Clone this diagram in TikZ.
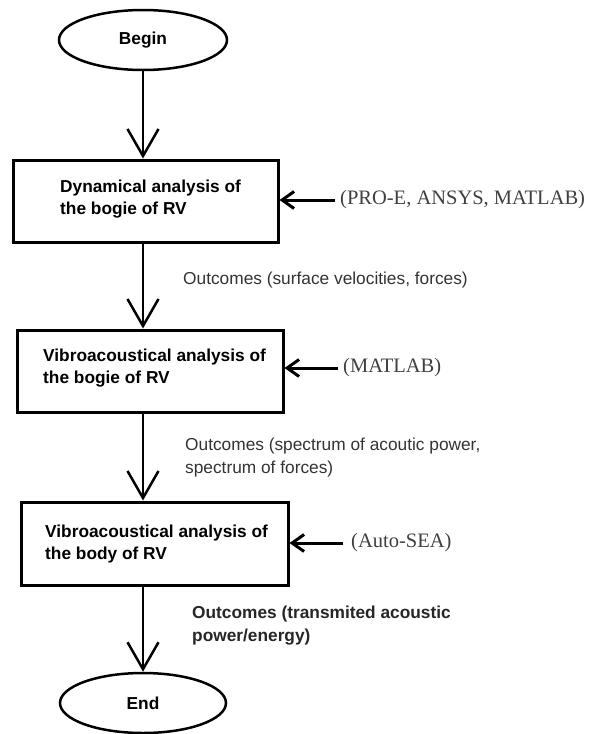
\documentclass[tikz,border=0pt]{standalone}
\usepackage{fontspec}
\setmainfont{Liberation Serif}
\setsansfont{Liberation Sans}
\usetikzlibrary{arrows.meta,shapes.geometric}
\begin{document}
\begin{tikzpicture}[x=1pt,y=-1pt,
  box/.style={draw, line width=3pt, minimum width=265pt, minimum height=82pt, inner sep=0pt},
  oval/.style={draw, ellipse, line width=2.5pt, minimum width=168pt, minimum height=60pt, inner sep=0pt,
    font=\sffamily\bfseries\fontsize{17.3}{22.5}\selectfont},
  boxtext/.style={anchor=west, align=left, inner sep=0pt, font=\sffamily\bfseries\fontsize{17.3}{22.5}\selectfont},
  outtext/.style={anchor=west, align=left, inner sep=0pt, text=black!80, font=\sffamily\fontsize{17.3}{23}\selectfont},
  outbold/.style={anchor=west, align=left, inner sep=0pt, text=black!85, font=\sffamily\bfseries\fontsize{17.3}{23}\selectfont},
  tooltext/.style={anchor=west, inner sep=0pt, text=black!75, font=\rmfamily\fontsize{20.5}{24}\selectfont},
  flow/.style={line width=2.5pt, -{Straight Barb[length=27pt,width=31pt]}},
  feed/.style={line width=3pt, -{Straight Barb[length=12pt,width=17pt]}}
]
\useasboundingbox (0,0) rectangle (592,734);

\node[oval] (begin) at (143,40) {Begin};
\node[box] (b1) at (145.5,201) {};
\node[box, minimum width=266pt] (b2) at (150,371) {};
\node[box, minimum width=267pt, minimum height=83pt] (b3) at (154.5,543.5) {};
\node[oval, minimum width=166pt] (end) at (143,703) {End};

\node[boxtext] (t1) at (60,199) {Dynamical analysis of\\the bogie of RV};
\node[boxtext] (t2) at (43,368) {Vibroacoustical analysis of\\the bogie of RV};
\node[boxtext] (t3) at (45,544) {Vibroacoustical analysis of\\the body of RV};

\node[outtext] (o1) at (183,280) {Outcomes (surface velocities, forces)};
\node[outtext] (o2) at (185,458) {Outcomes (spectrum of acoutic power,\\spectrum of forces)};
\node[outbold] (o3) at (192,626) {Outcomes (transmited acoustic\\power/energy)};

\node[tooltext] (l1) at (340,200) {(PRO-E, ANSYS, MATLAB)};
\node[tooltext] (l2) at (343,368) {(MATLAB)};
\node[tooltext] (l3) at (351,543) {(Auto-SEA)};

\coordinate (c1) at (335,200);
\coordinate (c2) at (338,368);
\coordinate (c3) at (343,543);

\draw[flow] (begin.south) -- (begin.south |- b1.north);
\draw[flow] (begin |- b1.south) -- (begin |- b2.north);
\draw[flow] (begin |- b2.south) -- (begin |- b3.north);
\draw[flow] (begin |- b3.south) -- (end.north);

\draw[feed] (c1) -- (c1 -| b1.east);
\draw[feed] (c2) -- (c2 -| b2.east);
\draw[feed] (c3) -- (c3 -| b3.east);
\end{tikzpicture}
\end{document}
